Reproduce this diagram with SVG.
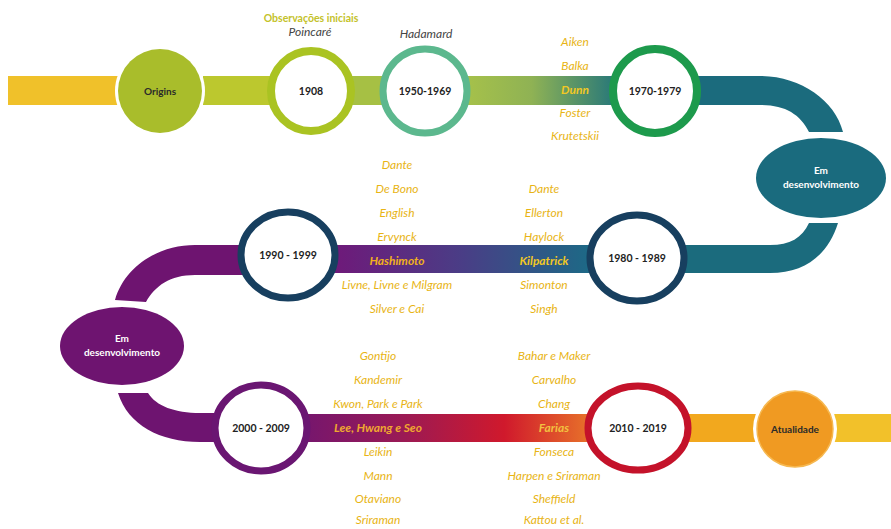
<svg xmlns="http://www.w3.org/2000/svg" width="891" height="529" viewBox="0 0 891 529">
<defs>
<linearGradient id="g1" x1="0" y1="0" x2="1" y2="0">
<stop offset="0" stop-color="#a6c14a"/><stop offset="0.45" stop-color="#8fb254"/><stop offset="1" stop-color="#2b7a78"/>
</linearGradient>
<linearGradient id="g2" x1="0" y1="0" x2="1" y2="0">
<stop offset="0" stop-color="#701879"/><stop offset="0.5" stop-color="#4a3d86"/><stop offset="1" stop-color="#1c6a86"/>
</linearGradient>
<linearGradient id="g3" x1="0" y1="0" x2="1" y2="0">
<stop offset="0" stop-color="#74166f"/><stop offset="0.35" stop-color="#9a1a55"/><stop offset="0.7" stop-color="#d0192c"/><stop offset="1" stop-color="#e8742a"/>
</linearGradient>
<style>
.yr{font-family:Lato,"Liberation Sans",sans-serif;font-weight:bold;font-size:10.5px;fill:#222;text-anchor:middle}
.nm{font-family:Lato,"Liberation Sans",sans-serif;font-style:italic;font-size:12px;fill:#e8b415;text-anchor:middle}
.hl{font-family:Lato,"Liberation Sans",sans-serif;font-style:italic;font-weight:bold;font-size:12px;fill:#f2c824;text-anchor:middle}
.wt{font-family:Lato,"Liberation Sans",sans-serif;font-weight:bold;font-size:10px;fill:#fff;text-anchor:middle}
.dk{font-family:Lato,"Liberation Sans",sans-serif;font-weight:bold;font-size:10px;fill:#2a2a2a;text-anchor:middle}
.au{font-family:Lato,"Liberation Sans",sans-serif;font-style:italic;font-size:12px;fill:#444;text-anchor:middle}
.ring{fill:#fff}
</style>
</defs>
<rect width="891" height="529" fill="#fff"/>
<g id="connectors">
<rect x="8" y="76" width="112" height="29" fill="#f0c12a"/>
<rect x="203" y="76" width="72" height="29" fill="#bcc82e"/>
<rect x="348" y="76" width="36" height="29" fill="#a6c044"/>
<rect x="466" y="76" width="146" height="29" fill="url(#g1)"/>
<path d="M698 76 L760 76 C800 76 835 100 843 132 L809 132 C800 114 785 105 760 105 L698 105 Z" fill="#1b6b7d"/>
<path d="M838 223 C828 255 805 273 770 273 L680 273 L680 245 L770 245 C790 245 802 238 809 223 Z" fill="#1b6b7d"/>
<rect x="330" y="245" width="262" height="28" fill="url(#g2)"/>
<path d="M245 245 L195 245 C160 245 125 265 115 300 L146 302 C155 286 170 275 195 275 L245 275 Z" fill="#6e1470"/>
<path d="M118 393 C128 425 160 442 200 442 L220 442 L220 413 L200 413 C175 413 156 406 148 393 Z" fill="#6e1470"/>
<rect x="300" y="414" width="292" height="28" fill="url(#g3)"/>
<rect x="684" y="414" width="78" height="28" fill="#f2a81e"/>
<rect x="834" y="414" width="57" height="28" fill="#f2c12a"/>
</g>
<g id="origins">
<circle cx="160" cy="91" r="45" class="ring"/>
<circle cx="160" cy="91" r="42" fill="#a9bd2b"/>
<text x="160" y="95" class="dk">Origins</text>
</g>
<g id="n1908">
<text x="311" y="22" font-family="Lato, 'Liberation Sans', sans-serif" font-weight="bold" font-size="10.5" fill="#c4c22a" text-anchor="middle">Observações iniciais</text>
<text x="310" y="36" class="au">Poincaré</text>
<circle cx="311" cy="91" r="40" fill="#fff" stroke="#aac322" stroke-width="8"/>
<text x="311" y="95" class="yr">1908</text>
</g>
<g id="n1950">
<text x="426" y="38" class="au">Hadamard</text>
<circle cx="425" cy="91" r="42" fill="#fff" stroke="#5cb88e" stroke-width="7"/>
<text x="425" y="95" class="yr">1950-1969</text>
</g>
<g id="n1970">
<text x="575" y="46" class="nm">Aiken</text>
<text x="575" y="70" class="nm">Balka</text>
<text x="575" y="94" class="hl">Dunn</text>
<text x="575" y="117" class="nm">Foster</text>
<text x="575" y="140" class="nm">Krutetskii</text>
<circle cx="655" cy="91" r="42" fill="#fff" stroke="#1d9a4c" stroke-width="8"/>
<text x="655" y="95" class="yr">1970-1979</text>
</g>
<g id="dev1">
<ellipse cx="821" cy="178" rx="65" ry="40" fill="#1a6b7e"/>
<text x="821" y="174" class="wt">Em</text>
<text x="821" y="188" class="wt">desenvolvimento</text>
</g>
<g id="n1980">
<text x="544" y="193" class="nm">Dante</text>
<text x="544" y="217" class="nm">Ellerton</text>
<text x="544" y="241" class="nm">Haylock</text>
<text x="544" y="265" class="hl">Kilpatrick</text>
<text x="544" y="289" class="nm">Simonton</text>
<text x="544" y="313" class="nm">Singh</text>
<ellipse cx="637" cy="258" rx="47" ry="43" fill="#fff" stroke="#173f5f" stroke-width="7"/>
<text x="637" y="262" class="yr">1980 - 1989</text>
</g>
<g id="n1990">
<text x="397" y="169" class="nm">Dante</text>
<text x="397" y="193" class="nm">De Bono</text>
<text x="397" y="217" class="nm">English</text>
<text x="397" y="241" class="nm">Ervynck</text>
<text x="397" y="265" class="hl" style="fill:#f0b020">Hashimoto</text>
<text x="397" y="289" class="nm">Livne, Livne e Milgram</text>
<text x="397" y="313" class="nm">Silver e Cai</text>
<ellipse cx="288" cy="255" rx="47" ry="43" fill="#fff" stroke="#173f5f" stroke-width="7"/>
<text x="288" y="259" class="yr">1990 - 1999</text>
</g>
<g id="dev2">
<ellipse cx="122" cy="346" rx="62" ry="39" fill="#6e1470"/>
<text x="122" y="342" class="wt">Em</text>
<text x="122" y="356" class="wt">desenvolvimento</text>
</g>
<g id="n2000">
<text x="378" y="360" class="nm">Gontijo</text>
<text x="378" y="384" class="nm">Kandemir</text>
<text x="378" y="408" class="nm">Kwon, Park e Park</text>
<text x="378" y="432" class="hl" style="fill:#f0a830">Lee, Hwang e Seo</text>
<text x="378" y="456" class="nm">Leikin</text>
<text x="378" y="480" class="nm">Mann</text>
<text x="378" y="503" class="nm">Otaviano</text>
<text x="378" y="524" class="nm">Sriraman</text>
<ellipse cx="261" cy="428" rx="46" ry="43" fill="#fff" stroke="#6a1672" stroke-width="7"/>
<text x="261" y="432" class="yr">2000 - 2009</text>
</g>
<g id="n2010">
<text x="554" y="360" class="nm">Bahar e Maker</text>
<text x="554" y="384" class="nm">Carvalho</text>
<text x="554" y="408" class="nm">Chang</text>
<text x="554" y="432" class="hl" style="fill:#f2c040">Farias</text>
<text x="554" y="456" class="nm">Fonseca</text>
<text x="554" y="480" class="nm">Harpen e Sriraman</text>
<text x="554" y="503" class="nm">Sheffield</text>
<text x="554" y="524" class="nm">Kattou et al.</text>
<ellipse cx="638" cy="428" rx="50" ry="42" fill="#fff" stroke="#c4122a" stroke-width="7"/>
<text x="638" y="432" class="yr">2010 - 2019</text>
</g>
<g id="atualidade">
<circle cx="795" cy="429" r="42" class="ring"/>
<circle cx="795" cy="429" r="38" fill="#f09a22" stroke="#f6b850" stroke-width="1.5"/>
<text x="795" y="433" class="dk">Atualidade</text>
</g>
</svg>
